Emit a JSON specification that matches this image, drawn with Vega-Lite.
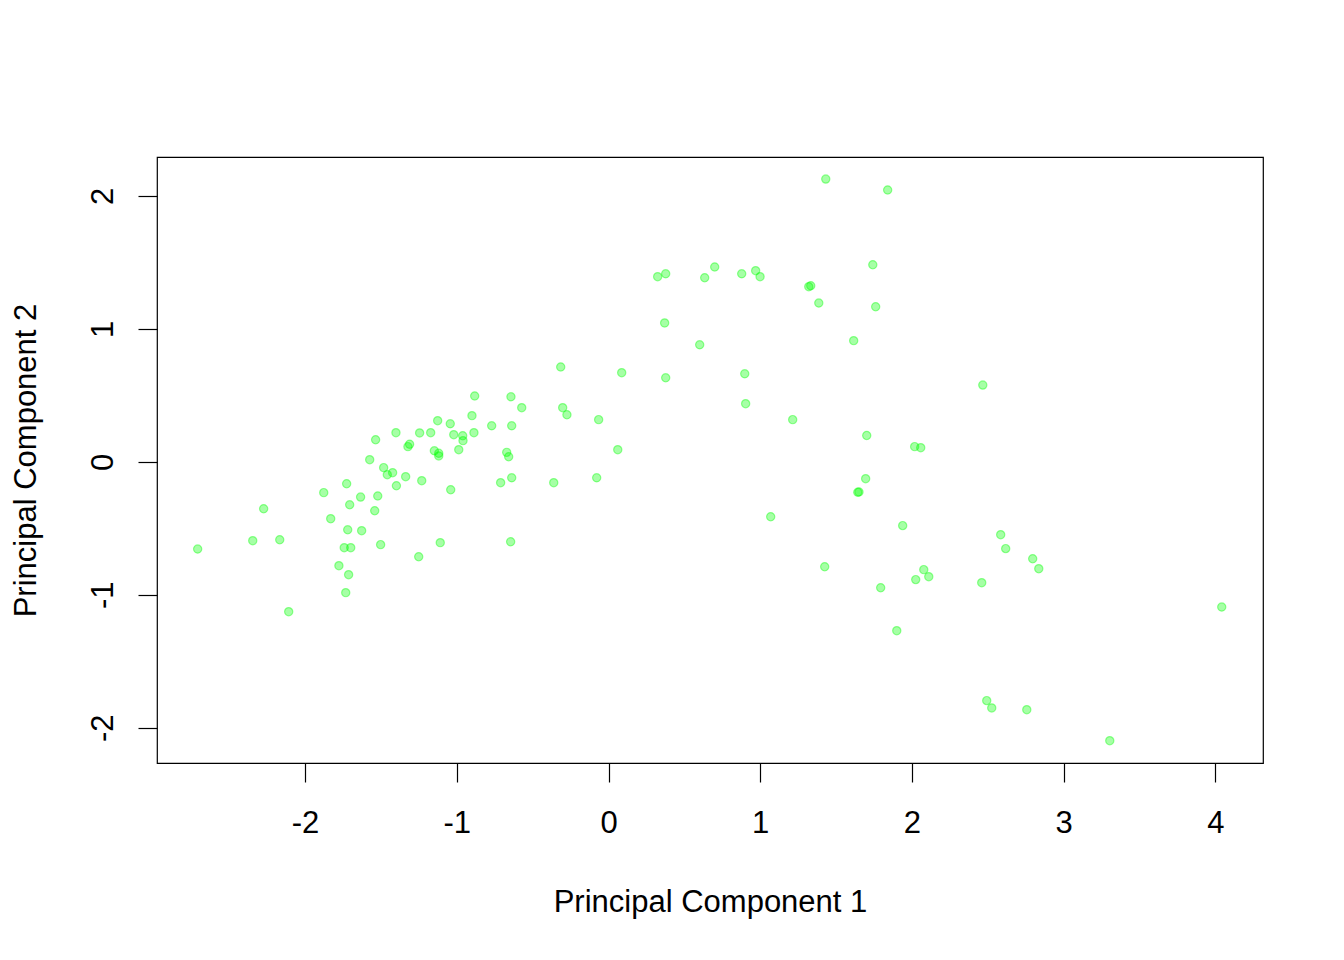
{
  "$schema": "https://vega.github.io/schema/vega-lite/v6.json",
  "autosize": "none",
  "width": 1106,
  "height": 606,
  "padding": {"left": 157, "top": 157, "right": 81, "bottom": 197},
  "background": "white",
  "config": {
    "view": {"stroke": "black", "strokeWidth": 1.2},
    "font": "Liberation Sans",
    "axis": {"grid": false, "domain": false, "ticks": true, "tickColor": "black", "tickWidth": 1.2, "tickSize": 19,
      "labelFont": "Liberation Sans", "labelFontSize": 31, "labelColor": "black",
      "titleFont": "Liberation Sans", "titleFontSize": 31, "titleColor": "black", "titleFontWeight": "normal"}
  },
  "data": {"values": [
    {"pc1": -2.708, "pc2": -0.656}, {"pc1": -2.345, "pc2": -0.593}, {"pc1": -2.273, "pc2": -0.353},
    {"pc1": -2.167, "pc2": -0.586}, {"pc1": -2.108, "pc2": -1.127}, {"pc1": -1.877, "pc2": -0.232},
    {"pc1": -1.831, "pc2": -0.428}, {"pc1": -1.777, "pc2": -0.781}, {"pc1": -1.742, "pc2": -0.646},
    {"pc1": -1.732, "pc2": -0.984}, {"pc1": -1.726, "pc2": -0.165}, {"pc1": -1.719, "pc2": -0.511},
    {"pc1": -1.713, "pc2": -0.849}, {"pc1": -1.706, "pc2": -0.323}, {"pc1": -1.699, "pc2": -0.646},
    {"pc1": -1.634, "pc2": -0.265}, {"pc1": -1.627, "pc2": -0.518}, {"pc1": -1.574, "pc2": 0.016},
    {"pc1": -1.541, "pc2": -0.368}, {"pc1": -1.535, "pc2": 0.166}, {"pc1": -1.521, "pc2": -0.257},
    {"pc1": -1.502, "pc2": -0.623}, {"pc1": -1.482, "pc2": -0.044}, {"pc1": -1.458, "pc2": -0.097},
    {"pc1": -1.423, "pc2": -0.082}, {"pc1": -1.401, "pc2": 0.219}, {"pc1": -1.398, "pc2": -0.180},
    {"pc1": -1.337, "pc2": -0.112}, {"pc1": -1.322, "pc2": 0.114}, {"pc1": -1.311, "pc2": 0.132},
    {"pc1": -1.251, "pc2": -0.714}, {"pc1": -1.245, "pc2": 0.217}, {"pc1": -1.231, "pc2": -0.142},
    {"pc1": -1.172, "pc2": 0.219}, {"pc1": -1.148, "pc2": 0.083}, {"pc1": -1.126, "pc2": 0.309},
    {"pc1": -1.119, "pc2": 0.064}, {"pc1": -1.119, "pc2": 0.044}, {"pc1": -1.109, "pc2": -0.608},
    {"pc1": -1.043, "pc2": 0.286}, {"pc1": -1.040, "pc2": -0.210}, {"pc1": -1.020, "pc2": 0.204},
    {"pc1": -0.987, "pc2": 0.091}, {"pc1": -0.961, "pc2": 0.196}, {"pc1": -0.959, "pc2": 0.159},
    {"pc1": -0.900, "pc2": 0.347}, {"pc1": -0.887, "pc2": 0.219}, {"pc1": -0.882, "pc2": 0.495},
    {"pc1": -0.770, "pc2": 0.271}, {"pc1": -0.711, "pc2": -0.157}, {"pc1": -0.671, "pc2": 0.071},
    {"pc1": -0.658, "pc2": 0.038}, {"pc1": -0.643, "pc2": 0.489}, {"pc1": -0.638, "pc2": 0.271},
    {"pc1": -0.638, "pc2": -0.120}, {"pc1": -0.645, "pc2": -0.601}, {"pc1": -0.572, "pc2": 0.407},
    {"pc1": -0.361, "pc2": -0.157}, {"pc1": -0.315, "pc2": 0.713}, {"pc1": -0.302, "pc2": 0.407},
    {"pc1": -0.274, "pc2": 0.354}, {"pc1": -0.078, "pc2": -0.120}, {"pc1": -0.065, "pc2": 0.317},
    {"pc1": 0.061, "pc2": 0.091}, {"pc1": 0.087, "pc2": 0.670}, {"pc1": 0.324, "pc2": 1.392},
    {"pc1": 0.377, "pc2": 1.414}, {"pc1": 0.370, "pc2": 1.044}, {"pc1": 0.377, "pc2": 0.632},
    {"pc1": 0.601, "pc2": 0.880}, {"pc1": 0.634, "pc2": 1.384}, {"pc1": 0.700, "pc2": 1.465},
    {"pc1": 0.878, "pc2": 1.414}, {"pc1": 0.898, "pc2": 0.662}, {"pc1": 0.904, "pc2": 0.437},
    {"pc1": 0.970, "pc2": 1.437}, {"pc1": 0.999, "pc2": 1.392}, {"pc1": 1.069, "pc2": -0.413},
    {"pc1": 1.214, "pc2": 0.317}, {"pc1": 1.320, "pc2": 1.317}, {"pc1": 1.333, "pc2": 1.324},
    {"pc1": 1.386, "pc2": 1.194}, {"pc1": 1.425, "pc2": -0.789}, {"pc1": 1.432, "pc2": 2.126},
    {"pc1": 1.616, "pc2": 0.911}, {"pc1": 1.643, "pc2": -0.229}, {"pc1": 1.651, "pc2": -0.227},
    {"pc1": 1.695, "pc2": -0.127}, {"pc1": 1.702, "pc2": 0.198}, {"pc1": 1.742, "pc2": 1.482},
    {"pc1": 1.761, "pc2": 1.166}, {"pc1": 1.794, "pc2": -0.947}, {"pc1": 1.840, "pc2": 2.044},
    {"pc1": 1.900, "pc2": -1.270}, {"pc1": 1.939, "pc2": -0.480}, {"pc1": 2.018, "pc2": 0.114},
    {"pc1": 2.025, "pc2": -0.886}, {"pc1": 2.058, "pc2": 0.106}, {"pc1": 2.078, "pc2": -0.811},
    {"pc1": 2.111, "pc2": -0.864}, {"pc1": 2.460, "pc2": -0.909}, {"pc1": 2.467, "pc2": 0.577},
    {"pc1": 2.493, "pc2": -1.796}, {"pc1": 2.526, "pc2": -1.851}, {"pc1": 2.585, "pc2": -0.548},
    {"pc1": 2.618, "pc2": -0.653}, {"pc1": 2.757, "pc2": -1.864}, {"pc1": 2.796, "pc2": -0.729},
    {"pc1": 2.836, "pc2": -0.804}, {"pc1": 3.304, "pc2": -2.097}, {"pc1": 4.042, "pc2": -1.092}
  ]},
  "mark": {"type": "point", "shape": "circle", "filled": false, "size": 68, "fill": "#00ff00", "fillOpacity": 0.35, "stroke": "#00ff00", "strokeOpacity": 0.4, "strokeWidth": 1.2, "opacity": 1},
  "encoding": {
    "x": {"field": "pc1", "type": "quantitative",
      "scale": {"domain": [-2.976, 4.314], "nice": false, "zero": false},
      "axis": {"title": "Principal Component 1", "values": [-2, -1, 0, 1, 2, 3, 4], "labelExpr": "datum.value + ''",
        "labelPadding": 26, "labelBaseline": "top", "labelFlush": false, "labelOverlap": false,
        "titleX": 553, "titleY": 148, "titleAlign": "center", "titleBaseline": "alphabetic", "titleAnchor": "middle"}},
    "y": {"field": "pc2", "type": "quantitative",
      "scale": {"domain": [-2.265, 2.292], "nice": false, "zero": false},
      "axis": {"title": "Principal Component 2", "values": [-2, -1, 0, 1, 2], "labelExpr": "datum.value + ''",
        "labelAngle": -90, "labelAlign": "center", "labelBaseline": "alphabetic", "labelPadding": 26,
        "labelFlush": false, "labelOverlap": false,
        "titleAngle": -90, "titleX": -122, "titleY": 303, "titleAlign": "center", "titleBaseline": "alphabetic", "titleAnchor": "middle"}}
  }
}
